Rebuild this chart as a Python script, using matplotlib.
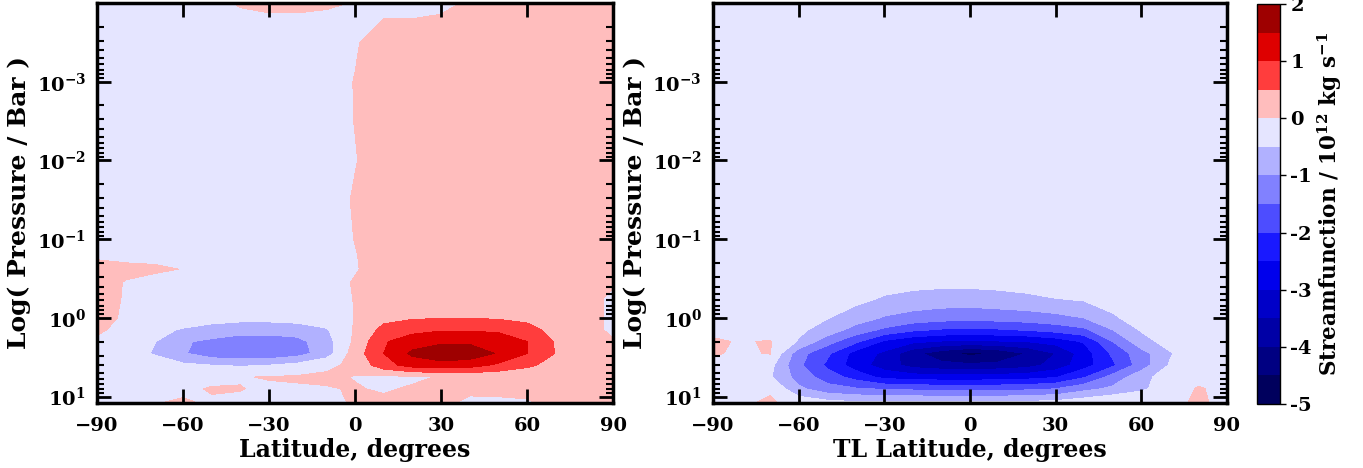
import numpy as np
import matplotlib
matplotlib.use("Agg")
import matplotlib.pyplot as plt
from matplotlib import colors, ticker

# ---------------- data ----------------
LAT = [-90, -80, -70, -60, -50, -40, -30, -20, -10, 0, 10, 20, 30, 40, 50, 60, 70, 80, 90]
# log10(pressure / bar), top of atmosphere first
LOGP = [-4.0, -3.5, -3.0, -2.5, -2.0, -1.5, -1.0, -0.8, -0.62, -0.45, -0.25,
        0.0, 0.15, 0.3, 0.45, 0.6, 0.75, 0.9, 1.08]

# streamfunction (10^12 kg/s), left panel (Latitude)
PSI_LAT = [
    [-0.1, -0.1, -0.1, -0.1, -0.06, 0.02, 0.05, 0.05, 0.03, -0.01, -0.1, -0.08, -0.04, 0.02, 0.1, 0.1, 0.1, 0.1, 0.1],
    [-0.1, -0.1, -0.12, -0.15, -0.15, -0.15, -0.15, -0.15, -0.15, -0.03, 0.15, 0.12, 0.1, 0.12, 0.12, 0.12, 0.12, 0.12, 0.12],
    [-0.1, -0.1, -0.12, -0.12, -0.12, -0.12, -0.12, -0.12, -0.12, 0.01, 0.15, 0.15, 0.15, 0.15, 0.15, 0.15, 0.15, 0.15, 0.15],
    [-0.1, -0.1, -0.12, -0.12, -0.12, -0.12, -0.12, -0.12, -0.1, 0.005, 0.15, 0.15, 0.15, 0.15, 0.15, 0.15, 0.15, 0.15, 0.15],
    [-0.1, -0.1, -0.12, -0.12, -0.12, -0.12, -0.12, -0.12, -0.1, -0.01, 0.1, 0.15, 0.15, 0.15, 0.15, 0.15, 0.15, 0.15, 0.15],
    [-0.1, -0.1, -0.12, -0.12, -0.12, -0.12, -0.12, -0.12, -0.1, 0.02, 0.15, 0.15, 0.15, 0.15, 0.15, 0.15, 0.15, 0.15, 0.15],
    [-0.1, -0.1, -0.12, -0.12, -0.12, -0.12, -0.12, -0.12, -0.1, 0.005, 0.15, 0.15, 0.15, 0.15, 0.15, 0.15, 0.15, 0.15, 0.15],
    [-0.05, -0.1, -0.1, -0.12, -0.12, -0.12, -0.12, -0.12, -0.1, -0.01, 0.1, 0.15, 0.15, 0.15, 0.15, 0.15, 0.15, 0.15, 0.15],
    [0.1, 0.08, 0.05, -0.01, -0.1, -0.12, -0.12, -0.12, -0.1, -0.02, 0.12, 0.15, 0.15, 0.15, 0.15, 0.15, 0.15, 0.15, 0.12],
    [0.15, -0.02, -0.1, -0.12, -0.12, -0.12, -0.12, -0.12, -0.1, 0.02, 0.15, 0.15, 0.15, 0.15, 0.15, 0.15, 0.15, 0.12, 0.03],
    [0.15, -0.03, -0.1, -0.15, -0.18, -0.2, -0.2, -0.18, -0.12, 0.01, 0.2, 0.25, 0.28, 0.28, 0.25, 0.2, 0.15, 0.1, -0.05],
    [0.12, -0.05, -0.1, -0.2, -0.3, -0.35, -0.35, -0.3, -0.2, 0.01, 0.35, 0.45, 0.48, 0.48, 0.45, 0.35, 0.2, 0.1, -0.05],
    [0.05, -0.1, -0.35, -0.55, -0.7, -0.8, -0.8, -0.75, -0.55, 0.05, 0.65, 0.85, 0.95, 0.95, 0.9, 0.7, 0.3, 0.1, -0.05],
    [-0.05, -0.2, -0.48, -0.95, -1.1, -1.25, -1.25, -1.15, -0.7, 0.1, 0.95, 1.25, 1.4, 1.4, 1.3, 1.0, 0.45, 0.12, 0.02],
    [-0.05, -0.2, -0.55, -0.95, -1.3, -1.4, -1.4, -1.2, -0.75, 0.25, 1.0, 1.6, 1.85, 1.8, 1.45, 1.0, 0.48, 0.15, 0.05],
    [-0.1, -0.1, -0.2, -0.4, -0.5, -0.55, -0.5, -0.35, -0.1, 0.1, 0.8, 1.2, 1.3, 1.2, 0.9, 0.6, 0.3, 0.1, 0.05],
    [-0.1, -0.1, -0.1, -0.1, -0.08, -0.02, 0.02, 0.05, 0.08, -0.02, -0.1, -0.08, 0.03, 0.1, 0.1, 0.1, 0.1, 0.1, 0.1],
    [-0.1, -0.1, -0.1, -0.05, 0.02, 0.01, -0.05, -0.05, -0.03, 0.03, -0.05, 0.05, 0.1, 0.05, 0.05, 0.05, 0.1, 0.1, 0.1],
    [-0.05, -0.05, -0.01, 0.03, -0.03, -0.05, -0.05, -0.05, -0.05, 0.02, 0.1, 0.1, 0.05, -0.05, -0.04, -0.02, 0.05, 0.1, 0.1],
]

# streamfunction (10^12 kg/s), right panel (TL Latitude)
_calm = [-0.1] * 19
PSI_TL = [
    _calm, _calm, _calm, _calm, _calm, _calm, _calm, _calm, _calm,
    [-0.1, -0.1, -0.1, -0.1, -0.15, -0.25, -0.3, -0.35, -0.38, -0.38, -0.36, -0.33, -0.3, -0.25, -0.2, -0.15, -0.1, -0.1, -0.1],
    [-0.1, -0.1, -0.15, -0.25, -0.3, -0.35, -0.55, -0.65, -0.7, -0.7, -0.65, -0.58, -0.5, -0.42, -0.35, -0.25, -0.15, -0.1, -0.1],
    [-0.1, -0.1, -0.2, -0.35, -0.48, -0.75, -1.05, -1.2, -1.3, -1.35, -1.3, -1.25, -1.15, -1.0, -0.55, -0.35, -0.2, -0.1, -0.1],
    [-0.1, -0.1, -0.25, -0.4, -0.7, -1.2, -1.6, -1.9, -2.05, -2.1, -2.05, -1.95, -1.8, -1.6, -1.0, -0.45, -0.3, -0.1, -0.1],
    [0.05, -0.03, 0.03, -0.55, -1.3, -1.9, -2.6, -2.9, -3.05, -3.1, -3.05, -3.0, -2.8, -2.45, -1.5, -0.7, -0.3, -0.1, -0.1],
    [0.03, -0.05, 0.02, -1.3, -1.9, -2.7, -3.1, -3.85, -4.3, -4.65, -4.4, -3.98, -3.5, -2.75, -1.9, -1.2, -0.55, -0.1, -0.1],
    [-0.1, -0.1, -0.35, -1.4, -2.1, -2.75, -3.25, -3.7, -3.85, -3.9, -3.85, -3.7, -3.3, -2.7, -2.1, -1.25, -0.45, -0.1, -0.1],
    [-0.1, -0.1, -0.45, -1.2, -1.75, -2.2, -2.65, -2.75, -2.8, -2.8, -2.75, -2.7, -2.55, -2.05, -1.3, -0.7, -0.2, -0.1, -0.1],
    [-0.1, -0.1, -0.05, -0.9, -1.3, -1.45, -1.55, -1.6, -1.65, -1.7, -1.65, -1.6, -1.5, -1.15, -0.9, -0.6, -0.2, 0.03, -0.1],
    [-0.05, -0.05, 0.05, -0.15, -0.3, -0.4, -0.4, -0.4, -0.4, -0.4, -0.4, -0.35, -0.3, -0.15, 0.02, 0.03, -0.05, 0.03, -0.05],
]

LEVELS = [-5.0, -4.5, -4.0, -3.5, -3.0, -2.5, -2.0, -1.5, -1.0, -0.5, 0.0, 0.5, 1.0, 1.5, 2.0]
CBAR_TICKS = [-5, -4, -3, -2, -1, 0, 1, 2]
XTICKS = [-90, -60, -30, 0, 30, 60, 90]
YTICK_EXP = [-3, -2, -1, 0, 1]
XLABELS = ["Latitude, degrees", "TL Latitude, degrees"]
YLABEL = "Log( Pressure / Bar )"
CBAR_LABEL = r"Streamfunction / 10$^{12}$ kg s$^{-1}$"

# ---------------- style ----------------
plt.rcParams["font.family"] = ["DejaVu Serif"]
plt.rcParams["font.weight"] = "bold"
plt.rcParams["mathtext.fontset"] = "dejavuserif"
plt.rcParams["mathtext.default"] = "bf"
plt.rcParams["axes.linewidth"] = 2.5

fig = plt.figure(figsize=(13.63, 4.68), dpi=100)
ax1 = fig.add_axes([0.0712, 0.1389, 0.3786, 0.8547])
ax2 = fig.add_axes([0.5231, 0.1389, 0.3771, 0.8547])
cax = fig.add_axes([0.9222, 0.1368, 0.0169, 0.8547])

cmap = plt.get_cmap("seismic")
norm = colors.TwoSlopeNorm(vmin=-5.0, vcenter=0.0, vmax=2.0)

lat = np.array(LAT)
logp = np.array(LOGP)

cs = None
for ax, psi, xl in zip([ax1, ax2], [PSI_LAT, PSI_TL], XLABELS):
    cs = ax.contourf(lat, logp, np.array(psi), levels=LEVELS, cmap=cmap, norm=norm)
    ax.set_xlim(-90, 90)
    ax.set_ylim(max(LOGP), min(LOGP))
    ax.set_xticks(XTICKS)
    ax.set_xticklabels([f"{v}".replace("-", "\u2212") for v in XTICKS])
    ax.set_yticks(YTICK_EXP)
    ax.set_yticklabels([rf"$10^{{{e}}}$" for e in YTICK_EXP])
    minors = [np.log10(k) + n for n in range(-5, 2) for k in range(2, 10)]
    minors = [m for m in minors if min(LOGP) <= m <= max(LOGP)]
    ax.yaxis.set_minor_locator(ticker.FixedLocator(minors))
    ax.tick_params(which="both", direction="in", top=True, right=True, labelsize=14)
    ax.tick_params(which="major", length=10, width=2)
    ax.tick_params(which="minor", length=5, width=1.5)
    ax.tick_params(axis="x", pad=10)
    ax.tick_params(axis="y", pad=8)
    ax.set_xlabel(xl, fontsize=17, fontweight="bold", labelpad=2)
    ax.set_ylabel(YLABEL, fontsize=18, fontweight="bold", labelpad=4)

cb = fig.colorbar(cs, cax=cax)
cb.set_ticks(CBAR_TICKS)
cb.set_ticklabels([str(t) for t in CBAR_TICKS])
cb.ax.tick_params(labelsize=14, length=4, width=1)
cb.outline.set_linewidth(1)
cb.set_label(CBAR_LABEL, fontsize=15.5, fontweight="bold", labelpad=2)

fig.savefig("out.png", dpi=100)
